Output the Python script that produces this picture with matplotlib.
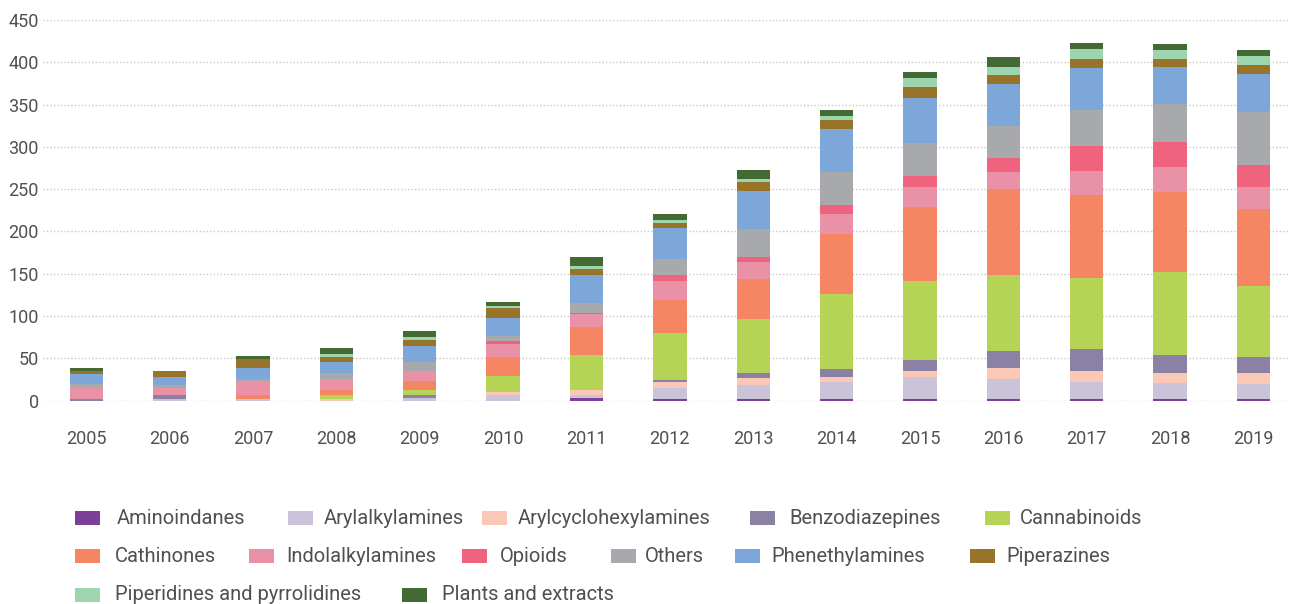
import numpy as np
import matplotlib.pyplot as plt
from matplotlib.patches import Rectangle

years = ['2005', '2006', '2007', '2008', '2009', '2010', '2011', '2012',
         '2013', '2014', '2015', '2016', '2017', '2018', '2019']

aminoindanes = [0, 0, 0, 0, 0, 0, 3, 2, 2, 2, 2, 2, 2, 2, 2]
arylalkylamines = [0, 2, 2, 0, 3, 6, 3, 13, 16, 20, 26, 24, 20, 19, 17]
arylcyclohexylamines = [0, 0, 0, 2, 0, 4, 6, 7, 9, 6, 7, 12, 13, 11, 13]
benzodiazepines = [2, 4, 0, 0, 3, 0, 0, 2, 6, 9, 13, 20, 26, 22, 19]
cannabinoids = [0, 0, 0, 4, 6, 19, 42, 56, 63, 89, 93, 91, 84, 98, 85]
cathinones = [0, 0, 4, 6, 11, 22, 33, 39, 48, 71, 88, 101, 98, 94, 91]
indolalkylamines = [13, 9, 17, 13, 12, 16, 15, 22, 20, 23, 24, 20, 28, 30, 26]
opioids = [0, 0, 0, 0, 0, 3, 1, 7, 6, 11, 13, 17, 30, 30, 26]
others = [5, 3, 3, 7, 10, 6, 12, 19, 33, 39, 39, 38, 43, 45, 62]
phenethylamines = [11, 10, 12, 13, 19, 22, 34, 37, 45, 51, 53, 49, 49, 43, 45]
piperazines = [4, 7, 11, 6, 7, 11, 6, 6, 10, 11, 13, 11, 11, 10, 11]
piperidines = [0, 0, 0, 4, 4, 3, 4, 4, 4, 4, 10, 10, 12, 11, 10]
plants = [4, 0, 4, 7, 7, 4, 11, 7, 11, 7, 7, 11, 7, 7, 7]

series = [
    ('Aminoindanes', aminoindanes, '#7e3f98'),
    ('Arylalkylamines', arylalkylamines, '#cbc3d9'),
    ('Arylcyclohexylamines', arylcyclohexylamines, '#fbc8b5'),
    ('Benzodiazepines', benzodiazepines, '#8b81a5'),
    ('Cannabinoids', cannabinoids, '#b5d455'),
    ('Cathinones', cathinones, '#f58563'),
    ('Indolalkylamines', indolalkylamines, '#e991a6'),
    ('Opioids', opioids, '#f0637e'),
    ('Others', others, '#a8a9ad'),
    ('Phenethylamines', phenethylamines, '#7da7d8'),
    ('Piperazines', piperazines, '#98732a'),
    ('Piperidines and pyrrolidines', piperidines, '#9dd5af'),
    ('Plants and extracts', plants, '#436a33'),
]

plt.rcParams['font.family'] = ['Roboto', 'DejaVu Sans']
text_col = '#505050'

W, H = 1290, 604
fig = plt.figure(figsize=(W / 100, H / 100), dpi=100)
ax = fig.add_axes([43 / W, 1 - 400.5 / H, 1 - 43 / W, 380.5 / H])

x = np.arange(len(years))
bottom = np.zeros(len(years))
for name, vals, col in series:
    ax.bar(x, vals, width=0.4, bottom=bottom, color=col, linewidth=0)
    bottom += np.array(vals)

ax.set_xlim(-0.52, 14.44)
ax.set_ylim(0, 450)
ax.set_yticks(range(0, 451, 50))
ax.set_xticks(x)
ax.set_xticklabels(years)
ax.yaxis.grid(True, linestyle=(0, (1, 1.5)), color='#c8c8c8', linewidth=1)
ax.set_axisbelow(True)
for s in ax.spines.values():
    s.set_visible(False)
ax.tick_params(axis='x', length=0, pad=21, labelsize=13, labelcolor=text_col)
ax.tick_params(axis='y', length=0, pad=3, labelsize=13, labelcolor=text_col)

# legend drawn by hand to get the flowing layout: (patch x, text x, row y) in pixels
legend_pos = [
    (75, 117, 518), (288, 324, 518), (482, 518, 518), (750, 789, 518), (985, 1020, 518),
    (75, 115, 556), (249, 286, 556), (462, 500, 556), (611, 645, 556), (735, 771, 556),
    (970, 1006, 556),
    (75, 115, 595), (402, 442, 595),
]
pw, ph = 25, 14
for (name, vals, col), (px, tx, ry) in zip(series, legend_pos):
    fig.add_artist(Rectangle((px / W, 1 - (ry + ph / 2) / H), pw / W, ph / H,
                             transform=fig.transFigure, color=col, linewidth=0))
    fig.text(tx / W, 1 - ry / H, name, va='center', ha='left', fontsize=14.5,
             color=text_col)

fig.savefig('out.png', dpi=100)
